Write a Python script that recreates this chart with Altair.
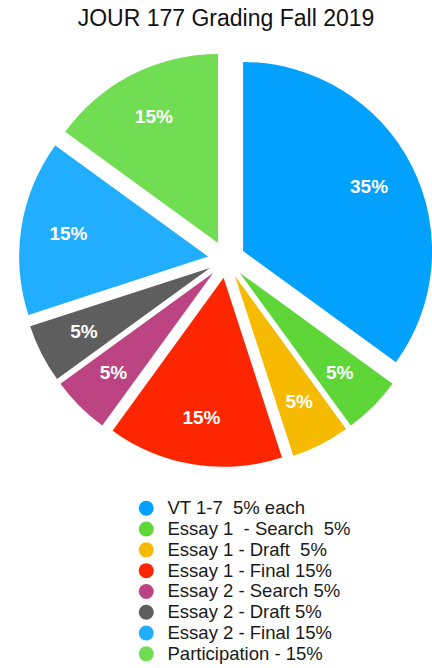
import altair as alt
import pandas as pd

title_text = "JOUR 177 Grading Fall 2019"
categories = [
    "VT 1-7\u00a0 5% each",
    "Essay 1\u00a0 - Search\u00a0 5%",
    "Essay 1 - Draft\u00a0 5%",
    "Essay 1 - Final 15%",
    "Essay 2 - Search 5%",
    "Essay 2 - Draft 5%",
    "Essay 2 - Final 15%",
    "Participation - 15%",
]
values = [35, 5, 5, 15, 5, 5, 15, 15]
slice_labels = ["35%", "5%", "5%", "15%", "5%", "5%", "15%", "15%"]
colors = ["#03A1FE", "#5ED638", "#F6BA00", "#FE2600", "#BC4482", "#5E5E5E", "#22AEFE", "#70DD52"]

df = pd.DataFrame({
    "category": categories,
    "value": values,
    "label": slice_labels,
    "order": list(range(len(values))),
})

CX, CY = 226.5, 219.5
R = 189
EXPLODE = 18.6
LABEL_R = 160
FONT = "Liberation Sans"

base = (
    alt.Chart(df)
    .transform_window(cum="sum(value)", sort=[alt.SortField("order")], frame=[None, 0])
    .transform_calculate(start="datum.cum - datum.value")
    .transform_calculate(mid="(datum.cum - datum.value / 2) / 100 * 2 * PI")
    .transform_calculate(
        px=f"{CX} + {EXPLODE} * sin(datum.mid)",
        py=f"{CY} - {EXPLODE} * cos(datum.mid)",
        lx=f"{CX} + {LABEL_R} * sin(datum.mid)",
        ly=f"{CY} - {LABEL_R} * cos(datum.mid)",
    )
)

arcs = base.mark_arc(outerRadius=R).encode(
    theta=alt.Theta("start:Q", scale=alt.Scale(domain=[0, 100], range=[0, 6.283185307179586])),
    theta2="cum:Q",
    x=alt.X("px:Q", scale=None, axis=None),
    y=alt.Y("py:Q", scale=None, axis=None),
    color=alt.Color(
        "category:N",
        scale=alt.Scale(domain=categories, range=colors),
        sort=categories,
        legend=alt.Legend(
            orient="none",
            legendX=137,
            legendY=459,
            title=None,
            symbolType="circle",
            symbolSize=225,
            symbolStrokeWidth=0,
            symbolOpacity=1,
            labelFont=FONT,
            labelFontSize=18.5,
            labelColor="#1a1a1a",
            labelOffset=12,
            labelLimit=400,
            rowPadding=1.8,
            padding=0,
        ),
    ),
    order=alt.Order("order:Q"),
)

texts = base.mark_text(
    color="white", fontSize=19, fontWeight="bold", font=FONT, align="center", baseline="middle"
).encode(
    x=alt.X("lx:Q", scale=None, axis=None),
    y=alt.Y("ly:Q", scale=None, axis=None),
    text="label:N",
)

chart = (
    alt.layer(arcs, texts)
    .properties(
        width=432,
        height=628,
        title=alt.TitleParams(
            title_text,
            font=FONT,
            fontSize=23,
            fontWeight="normal",
            color="#111111",
            anchor="middle",
            frame="group",
            dx=10,
            offset=9,
        ),
        padding={"left": 0, "top": 40, "right": 0, "bottom": 0},
        autosize=alt.AutoSizeParams(type="none"),
    )
    .configure_view(stroke=None)
)

chart.save("out.html", embed_options={"renderer": "svg", "actions": False})
